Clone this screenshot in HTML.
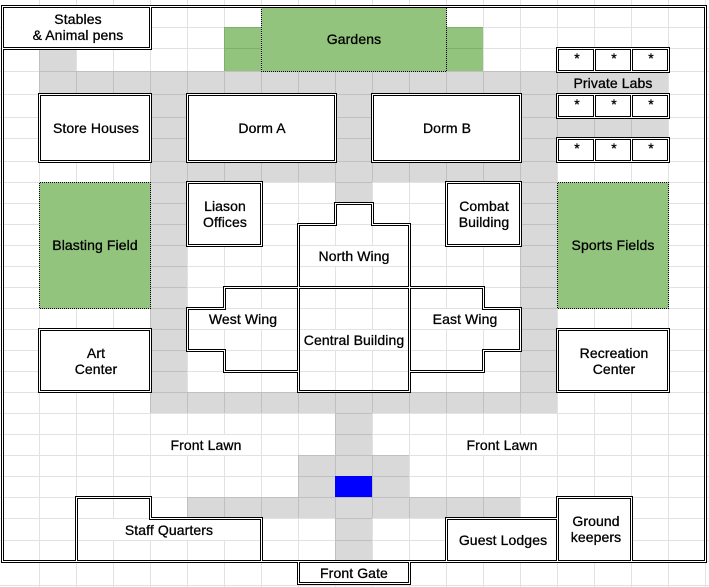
<!DOCTYPE html>
<html><head><meta charset="utf-8"><style>
html,body{margin:0;padding:0;background:#fff}
svg{display:block}
text{font-family:"Liberation Sans",Arial,sans-serif;font-size:14px;fill:#000;stroke:#000;stroke-width:.3px;text-anchor:middle;letter-spacing:.1px}
.g{stroke:#000;stroke-opacity:.115;stroke-width:1;fill:none}
.k{stroke:#000;stroke-width:3;fill:none}
.w{stroke:#fff;stroke-width:1;fill:none}
.f{fill:#fff;stroke:none}
.d{fill:#93c47d;stroke:#000;stroke-width:1;stroke-dasharray:1 1;stroke-dashoffset:1.5}
</style></head><body>
<svg width="709" height="587" viewBox="0 0 709 587" shape-rendering="crispEdges" xmlns="http://www.w3.org/2000/svg">
<rect width="709" height="587" fill="#fff"/>
<!-- paths -->
<g fill="#d9d9d9">
<rect x="39" y="48" width="37" height="23"/>
<rect x="39" y="71" width="629" height="23"/>
<rect x="557" y="117" width="111" height="21"/>
<rect x="150" y="71" width="37" height="342"/>
<rect x="520" y="71" width="37" height="342"/>
<rect x="150" y="161" width="407" height="21"/>
<rect x="335" y="94" width="37" height="109"/>
<rect x="150" y="392" width="407" height="21"/>
<rect x="335" y="392" width="37" height="169"/>
<rect x="298" y="455" width="111" height="63"/>
<rect x="187" y="497" width="333" height="21"/>
</g>
<rect x="224" y="27" width="37" height="44" fill="#93c47d"/>
<rect x="446" y="27" width="37" height="44" fill="#93c47d"/>
<!-- grid -->
<path class="g" d="M39.5 0V587M76.5 0V587M113.5 0V587M150.5 0V587M187.5 0V587M224.5 0V587M261.5 0V587M298.5 0V587M335.5 0V587M372.5 0V587M409.5 0V587M446.5 0V587M483.5 0V587M520.5 0V587M557.5 0V587M594.5 0V587M631.5 0V587M668.5 0V587M705.5 0V587
M0 27.5H709M0 48.5H709M0 71.5H709M0 94.5H709M0 117.5H709M0 138.5H709M0 161.5H709M0 182.5H709M0 203.5H709M0 224.5H709M0 245.5H709M0 266.5H709M0 287.5H709M0 308.5H709M0 329.5H709M0 350.5H709M0 371.5H709M0 392.5H709M0 413.5H709M0 434.5H709M0 455.5H709M0 476.5H709M0 497.5H709M0 518.5H709M0 540.5H709M0 561.5H709M0 585.5H709"/>
<rect x="335" y="476" width="37" height="21" fill="#0000ff"/>
<rect x="558" y="72" width="110" height="22" fill="#d9d9d9"/>
<!-- merged label cells hide the grid -->
<g class="f">
<rect x="151" y="435" width="110" height="20"/>
<rect x="447" y="435" width="110" height="20"/>
<rect x="299" y="246" width="110" height="20"/>
<rect x="188" y="309" width="110" height="20"/>
<rect x="410" y="309" width="110" height="20"/>
<rect x="299" y="330" width="110" height="20"/>
<rect x="77" y="519" width="184" height="21"/>
</g>
<!-- green dotted -->
<rect class="d" x="261.5" y="6.5" width="185" height="65"/>
<rect class="d" x="39.5" y="182.5" width="111" height="126"/>
<rect class="d" x="557.5" y="182.5" width="111" height="126"/>
<!-- white boxes -->
<g class="f">
<rect x="2" y="6" width="148" height="42"/>
<rect x="39" y="94" width="111" height="67"/>
<rect x="187" y="94" width="148" height="67"/>
<rect x="372" y="94" width="148" height="67"/>
<rect x="187" y="182" width="74" height="63"/>
<rect x="446" y="182" width="74" height="63"/>
<rect x="39" y="329" width="111" height="62"/>
<rect x="557" y="329" width="111" height="62"/>
<rect x="446" y="518" width="111" height="43"/>
<rect x="557" y="497" width="74" height="64"/>
<rect x="298" y="561" width="111" height="22"/>
<rect x="557" y="48" width="111" height="23"/>
<rect x="557" y="94" width="111" height="23"/>
<rect x="557" y="138" width="111" height="23"/>
</g>
<!-- double lines: black -->
<g class="k">
<rect x="2.5" y="6.5" width="703" height="555"/>
<rect x="2.5" y="6.5" width="148" height="42"/>
<rect x="39.5" y="94.5" width="111" height="67"/>
<rect x="187.5" y="94.5" width="148" height="67"/>
<rect x="372.5" y="94.5" width="148" height="67"/>
<rect x="187.5" y="182.5" width="74" height="63"/>
<rect x="446.5" y="182.5" width="74" height="63"/>
<rect x="39.5" y="329.5" width="111" height="62"/>
<rect x="557.5" y="329.5" width="111" height="62"/>
<path d="M298.5 287.5V224.5H335.5V203.5H372.5V224.5H409.5V287.5Z"/>
<path d="M298.5 287.5H224.5V308.5H187.5V350.5H224.5V371.5H298.5Z"/>
<path d="M409.5 287.5H483.5V308.5H520.5V350.5H483.5V371.5H409.5Z"/>
<rect x="298.5" y="287.5" width="111" height="104"/>
<path d="M76.5 561.5V497.5H150.5V518.5H261.5V561.5Z"/>
<rect x="446.5" y="518.5" width="111" height="43"/>
<rect x="557.5" y="497.5" width="74" height="64"/>
<rect x="298.5" y="561.5" width="111" height="22"/>
<path d="M557.5 48.5H668.5V71.5H557.5ZM594.5 48.5V71.5M631.5 48.5V71.5M557.5 94.5H668.5V117.5H557.5ZM594.5 94.5V117.5M631.5 94.5V117.5M557.5 138.5H668.5V161.5H557.5ZM594.5 138.5V161.5M631.5 138.5V161.5"/>
</g>
<!-- double lines: white core -->
<g class="w">
<rect x="2.5" y="6.5" width="703" height="555"/>
<rect x="2.5" y="6.5" width="148" height="42"/>
<rect x="39.5" y="94.5" width="111" height="67"/>
<rect x="187.5" y="94.5" width="148" height="67"/>
<rect x="372.5" y="94.5" width="148" height="67"/>
<rect x="187.5" y="182.5" width="74" height="63"/>
<rect x="446.5" y="182.5" width="74" height="63"/>
<rect x="39.5" y="329.5" width="111" height="62"/>
<rect x="557.5" y="329.5" width="111" height="62"/>
<path d="M298.5 287.5V224.5H335.5V203.5H372.5V224.5H409.5V287.5Z"/>
<path d="M298.5 287.5H224.5V308.5H187.5V350.5H224.5V371.5H298.5Z"/>
<path d="M409.5 287.5H483.5V308.5H520.5V350.5H483.5V371.5H409.5Z"/>
<rect x="298.5" y="287.5" width="111" height="104"/>
<path d="M76.5 561.5V497.5H150.5V518.5H261.5V561.5Z"/>
<rect x="446.5" y="518.5" width="111" height="43"/>
<rect x="557.5" y="497.5" width="74" height="64"/>
<rect x="298.5" y="561.5" width="111" height="22"/>
<path d="M557.5 48.5H668.5V71.5H557.5ZM594.5 48.5V71.5M631.5 48.5V71.5M557.5 94.5H668.5V117.5H557.5ZM594.5 94.5V117.5M631.5 94.5V117.5M557.5 138.5H668.5V161.5H557.5ZM594.5 138.5V161.5M631.5 138.5V161.5"/>
</g>
<!-- labels -->
<text x="78" y="24">Stables</text>
<text x="78" y="40">&amp; Animal pens</text>
<text x="354" y="44">Gardens</text>
<text x="96" y="133">Store Houses</text>
<text x="262" y="133">Dorm A</text>
<text x="447" y="133">Dorm B</text>
<text x="225" y="211">Liason</text>
<text x="225" y="227">Offices</text>
<text x="484" y="211">Combat</text>
<text x="484" y="227">Building</text>
<text x="95" y="250">Blasting Field</text>
<text x="613" y="250">Sports Fields</text>
<text x="354" y="261">North Wing</text>
<text x="243" y="324">West Wing</text>
<text x="465" y="324">East Wing</text>
<text x="354" y="345">Central Building</text>
<text x="96" y="358">Art</text>
<text x="96" y="374">Center</text>
<text x="614" y="358">Recreation</text>
<text x="614" y="374">Center</text>
<text x="206" y="450">Front Lawn</text>
<text x="502" y="450">Front Lawn</text>
<text x="169" y="535">Staff Quarters</text>
<text x="503" y="545">Guest Lodges</text>
<text x="596" y="526">Ground</text>
<text x="596" y="542">keepers</text>
<text x="354" y="578">Front Gate</text>
<text x="613" y="88">Private Labs</text>
<text x="577" y="63">*</text><text x="614" y="63">*</text><text x="651" y="63">*</text>
<text x="577" y="109">*</text><text x="614" y="109">*</text><text x="651" y="109">*</text>
<text x="577" y="153">*</text><text x="614" y="153">*</text><text x="651" y="153">*</text>
</svg>
</body></html>
